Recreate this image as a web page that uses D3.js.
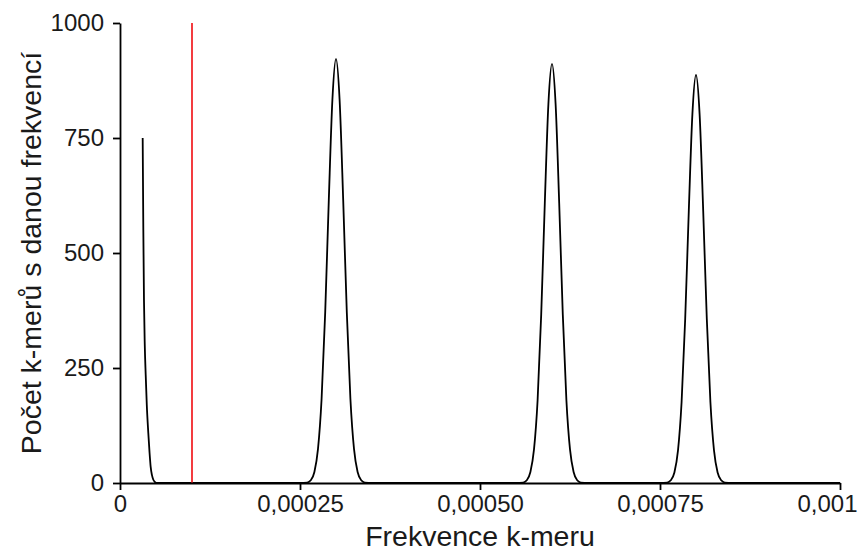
<!DOCTYPE html>
<html>
<head>
  <meta charset="utf-8">
  <title>Frekvence k-meru</title>
  <style type="text/css">
    body { margin: 0; background: #fff; }
    svg { display: block; font-family: "Liberation Sans", Arial, sans-serif; }
    .axis path, .axis line { stroke: #000; stroke-width: 1.8px; }
    .axis text { fill: #1a1a1a; font-size: 24px; }
    .label { fill: #1a1a1a; font-size: 28.5px; }
  </style>
</head>
<body>
<svg id="vis" width="861" height="551"></svg>

<script src="https://cdnjs.cloudflare.com/ajax/libs/d3/7.8.5/d3.min.js"></script>
<script type="text/javascript">
  // frequencies are in units of 1e-6
  var lowFreq   = [31.5, 32.4, 33.3, 34.4, 35.7, 37.2, 39.3, 41.0, 42.6, 44.4, 46.3, 48.6, 51.4]
  var lowCount  = [750, 550, 398, 300, 235, 170, 109, 67, 35, 17, 7, 2, 0]

  var peak1Freq  = [260, 265, 270, 275, 280, 285, 290, 295, 300, 305, 310, 315, 320, 325, 330, 335, 340]
  var peak1Count = [1, 6, 24, 74, 183, 371, 615, 833, 922, 833, 615, 371, 183, 74, 24, 6, 1]

  var peak2Freq  = [560, 565, 570, 575, 580, 585, 590, 595, 600, 605, 610, 615, 620, 625, 630, 635, 640]
  var peak2Count = [1, 6, 24, 73, 180, 366, 608, 824, 911, 824, 608, 366, 180, 73, 24, 6, 1]

  var peak3Freq  = [760, 765, 770, 775, 780, 785, 790, 795, 800, 805, 810, 815, 820, 825, 830, 835, 840]
  var peak3Count = [1, 6, 23, 71, 176, 357, 592, 802, 887, 802, 592, 357, 176, 71, 23, 6, 1]

  // stretches where the curve lies on zero
  var zeroFreq = [60, 250, 350, 550, 650, 750, 850, 1000]

  var thresholdFreq = 100

  var xTicks = [0, 0.00025, 0.0005, 0.00075, 0.001]
  var xTickLabels = ['0', '0,00025', '0,00050', '0,00075', '0,001']
  var yTicks = [0, 250, 500, 750, 1000]

  var svg = d3.select('#vis')
  var margin = { top: 23, right: 21, bottom: 68, left: 120 }
  var width = +svg.attr('width'), height = +svg.attr('height')

  var xScale = d3.scaleLinear()
    .domain([0, 0.001])
    .range([margin.left, width - margin.right])

  var yScale = d3.scaleLinear()
    .domain([0, 1000])
    .range([height - margin.bottom, margin.top])

  // build the one series the curve is drawn from
  var points = []
  function add(fs, cs) {
    fs.forEach(function(f, i) { points.push({ f: f * 1e-6, c: cs ? cs[i] : 0 }) })
  }
  add(lowFreq, lowCount)
  add(peak1Freq, peak1Count)
  add(peak2Freq, peak2Count)
  add(peak3Freq, peak3Count)
  add(zeroFreq)
  points.sort(function(a, b) { return a.f - b.f })

  var line = d3.line()
    .x(function(d) { return xScale(d.f) })
    .y(function(d) { return yScale(d.c) })
    .curve(d3.curveMonotoneX)

  svg.append('path')
    .datum(points)
    .attr('fill', 'none')
    .attr('stroke', '#000')
    .attr('stroke-width', 1.8)
    .attr('d', line)

  // red threshold line
  svg.append('line')
    .attr('x1', xScale(thresholdFreq * 1e-6))
    .attr('x2', xScale(thresholdFreq * 1e-6))
    .attr('y1', yScale(0))
    .attr('y2', yScale(1000))
    .attr('stroke', '#f2262b')
    .attr('stroke-width', 1.8)

  var xAxis = d3.axisBottom(xScale)
    .tickValues(xTicks)
    .tickFormat(function(d, i) { return xTickLabels[i] })
    .tickSizeInner(7)
    .tickSizeOuter(0)
    .tickPadding(5)

  var yAxis = d3.axisLeft(yScale)
    .tickValues(yTicks)
    .tickFormat(d3.format('d'))
    .tickSizeInner(7)
    .tickSizeOuter(0)
    .tickPadding(9)

  var gx = svg.append('g')
    .attr('class', 'axis')
    .attr('transform', 'translate(0,' + yScale(0) + ')')
    .call(xAxis)

  svg.append('g')
    .attr('class', 'axis')
    .attr('transform', 'translate(' + margin.left + ',0)')
    .call(yAxis)

  d3.selectAll('.axis').attr('font-family', null).attr('font-size', null)

  // the last label is pulled in so it stays on the page
  gx.selectAll('.tick text')
    .filter(function(d, i) { return i === xTicks.length - 1 })
    .attr('dx', -13)

  svg.append('text')
    .attr('class', 'label')
    .attr('x', (margin.left + width - margin.right) / 2)
    .attr('y', 546)
    .attr('text-anchor', 'middle')
    .text('Frekvence k-meru')

  svg.append('text')
    .attr('class', 'label')
    .attr('transform', 'translate(41,' + ((margin.top + height - margin.bottom) / 2) + ') rotate(-90)')
    .attr('text-anchor', 'middle')
    .text('Počet k-merů s danou frekvencí')
</script>
</body>
</html>
